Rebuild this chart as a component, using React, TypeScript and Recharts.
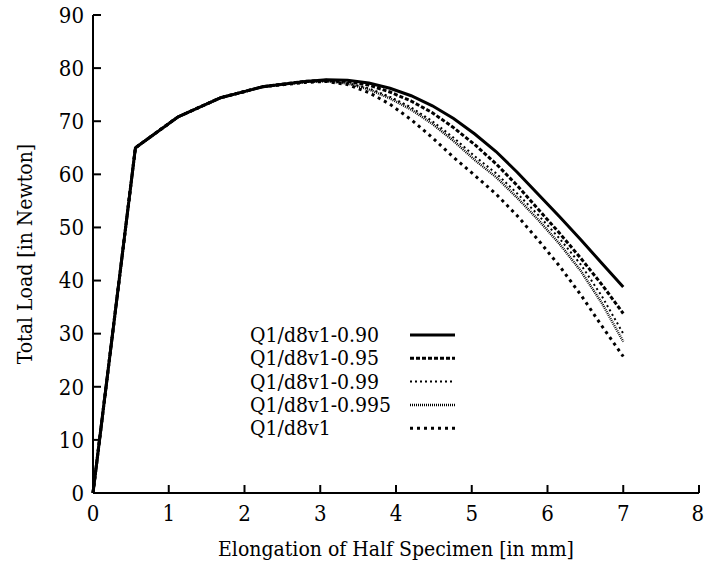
import React from 'react';
import { LineChart, Line, XAxis, YAxis, Legend, Label } from 'recharts';

const elongation = [0, 0.56, 1.12, 1.68, 2.24, 2.8, 3.08, 3.36, 3.64, 3.92, 4.2, 4.48, 4.76, 5.04, 5.32, 5.6, 5.88, 6.16, 6.44, 6.72, 7.0];

const load090 = [0, 65, 70.8, 74.4, 76.5, 77.5, 77.8, 77.7, 77.2, 76.2, 74.8, 72.9, 70.5, 67.6, 64.3, 60.4, 56.2, 52.0, 47.7, 43.2, 38.8];
const load095 = [0, 65, 70.8, 74.4, 76.5, 77.5, 77.7, 77.5, 76.8, 75.5, 73.8, 71.6, 68.8, 65.6, 62.0, 57.9, 53.4, 48.9, 44.2, 39.2, 33.8];
const load099 = [0, 65, 70.8, 74.4, 76.5, 77.4, 77.6, 77.2, 76.2, 74.6, 72.6, 70.0, 66.9, 63.4, 60.2, 56.4, 52.3, 47.9, 43.0, 37.0, 30.0];
const load0995 = [0, 65, 70.8, 74.4, 76.5, 77.4, 77.5, 77.1, 76.0, 74.3, 72.2, 69.5, 66.3, 62.7, 59.5, 55.6, 51.4, 46.9, 41.8, 35.7, 28.5];
const loadD8v1 = [0, 65, 70.8, 74.4, 76.5, 77.3, 77.5, 76.9, 75.4, 73.2, 70.3, 66.9, 63.2, 59.8, 56.3, 52.2, 47.6, 42.7, 37.3, 31.4, 25.7];

const xTicks = [0, 1, 2, 3, 4, 5, 6, 7, 8];
const yTicks = [0, 10, 20, 30, 40, 50, 60, 70, 80, 90];

const series = [
  { key: 'a', name: 'Q1/d8v1-0.90', values: load090, dash: undefined, width: 3 },
  { key: 'b', name: 'Q1/d8v1-0.95', values: load095, dash: '4 2', width: 3 },
  { key: 'c', name: 'Q1/d8v1-0.99', values: load099, dash: '2 3', width: 2 },
  { key: 'd', name: 'Q1/d8v1-0.995', values: load0995, dash: '1 1', width: 2.5 },
  { key: 'e', name: 'Q1/d8v1', values: loadD8v1, dash: '3 4', width: 3 },
];

const data = elongation.map((x, i) => {
  const row: Record<string, number> = { x };
  series.forEach((s) => {
    row[s.key] = s.values[i];
  });
  return row;
});

// no Times-like font here, DejaVu Serif condensed is the closest
const textStyle = { fontFamily: '"DejaVu Serif Condensed", "DejaVu Serif", serif', fontStretch: 'condensed', fill: '#000' };

const renderLegend = () => (
  <svg width={230} height={120} style={{ display: 'block' }}>
    {series.map((s, i) => (
      <g key={s.key}>
        <text x={5} y={15 + i * 23.3} dominantBaseline="central" style={{ ...textStyle, fontSize: 21 }}>
          {s.name}
        </text>
        <line
          x1={165}
          x2={210}
          y1={15 + i * 23.3}
          y2={15 + i * 23.3}
          stroke="#000"
          strokeWidth={s.width}
          strokeDasharray={s.dash}
        />
      </g>
    ))}
  </svg>
);

export default function App() {
  const tickStyle = { fontSize: 22, fill: '#000', style: textStyle };
  return (
    <div style={{ position: 'absolute', left: 0, top: 0, background: '#fff' }}>
      <LineChart width={704} height={564} data={data} margin={{ top: 15, right: 5, left: 0, bottom: 0 }}>
        <XAxis
          dataKey="x"
          type="number"
          domain={[0, 8]}
          ticks={xTicks}
          height={71}
          tickSize={-8}
          tickMargin={20}
          tick={tickStyle}
          axisLine={{ stroke: '#000', strokeWidth: 2 }}
          tickLine={{ stroke: '#000', strokeWidth: 2 }}
        >
          <Label value="Elongation of Half Specimen [in mm]" position="center" dy={20} style={{ ...textStyle, fontSize: 21 }} />
        </XAxis>
        <XAxis
          xAxisId="top"
          dataKey="x"
          type="number"
          orientation="top"
          domain={[0, 8]}
          ticks={xTicks}
          height={0}
          tick={false}
          tickSize={-8}
          axisLine={{ stroke: '#000', strokeWidth: 2 }}
          tickLine={{ stroke: '#000', strokeWidth: 2 }}
        />
        <YAxis
          type="number"
          domain={[0, 90]}
          ticks={yTicks}
          width={93}
          tickSize={-8}
          tickMargin={17}
          tick={tickStyle}
          axisLine={{ stroke: '#000', strokeWidth: 2 }}
          tickLine={{ stroke: '#000', strokeWidth: 2 }}
        >
          <Label value="Total Load [in Newton]" angle={-90} position="center" dx={-22} style={{ ...textStyle, fontSize: 21, textAnchor: 'middle' }} />
        </YAxis>
        <YAxis
          yAxisId="right"
          type="number"
          orientation="right"
          domain={[0, 90]}
          ticks={yTicks}
          width={0}
          tick={false}
          tickSize={-8}
          axisLine={{ stroke: '#000', strokeWidth: 2 }}
          tickLine={{ stroke: '#000', strokeWidth: 2 }}
        />
        <Legend
          layout="vertical"
          verticalAlign="middle"
          align="center"
          wrapperStyle={{ left: 245, top: 320, width: 230, height: 120 }}
          content={renderLegend}
        />
        {series
          .slice()
          .reverse()
          .map((s) => (
            <Line
              key={s.key}
              dataKey={s.key}
              name={s.name}
              type="linear"
              stroke="#000"
              strokeWidth={s.width}
              strokeDasharray={s.dash}
              dot={false}
              activeDot={false}
              isAnimationActive={false}
            />
          ))}
      </LineChart>
    </div>
  );
}
